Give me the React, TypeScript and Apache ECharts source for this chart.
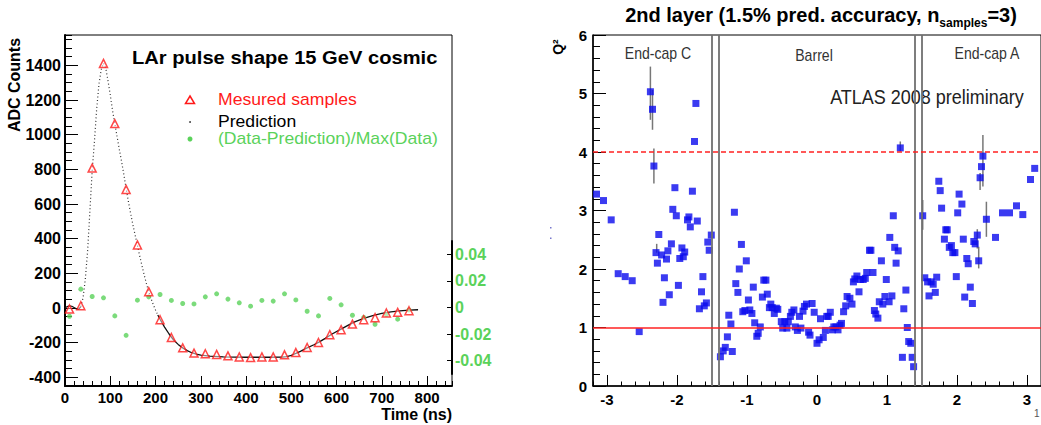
import React, { useEffect, useRef } from "react";
import * as echarts from "echarts";

// ---------- Left panel: LAr pulse shape ----------
const measT = [10, 35, 60, 85, 110, 135, 160, 185, 210, 235, 260, 285, 310, 335, 360, 385, 410, 435, 460, 485, 510, 535, 560, 585, 610, 635, 660, 685, 710, 735, 760];
const measV = [-6, 13, 807, 1411, 1064, 684, 364, 94, -68, -170, -230, -260, -264, -268, -276, -282, -286, -282, -282, -270, -257, -228, -199, -154, -125, -93, -68, -56, -29, -25, -16];
const residV = [-0.0066, 0.0138, 0.0083, 0.0073, -0.0063, -0.0209, 0.0055, 0.008, 0.0098, 0.0053, 0.003, 0.0027, 0.008, 0.0103, 0.0063, 0.0035, 0.001, 0.0053, 0.0048, 0.0103, 0.0057, -0.0028, -0.0063, 0.0068, 0.002, -0.0058, -0.0075, -0.0126, -0.0053, -0.0088, -0.0018];
const predT = [0, 5, 10, 15, 20, 25, 30, 35, 40, 45, 50, 55, 60, 65, 70, 75, 80, 85, 90, 95, 100, 105, 110, 115, 120, 125, 130, 135, 140, 145, 150, 155, 160, 165, 170, 175, 180, 185, 190, 195, 200, 205, 210, 220, 230, 240, 250, 260, 270, 280, 290, 300, 320, 350, 400, 450, 480, 490, 500, 510, 520, 535, 550, 560, 575, 590, 610, 625, 640, 660, 680, 700, 720, 740, 760, 780];
const predV = [0, 8, 12, 10, 3, -5, -8, 8, 60, 170, 330, 560, 790, 960, 1150, 1290, 1375, 1412, 1385, 1310, 1230, 1140, 1064, 990, 915, 845, 770, 690, 615, 545, 480, 420, 362, 300, 245, 190, 140, 94, 55, 20, -12, -40, -65, -110, -150, -185, -210, -230, -246, -258, -266, -272, -278, -282, -284, -284, -283, -280, -273, -262, -250, -230, -212, -198, -175, -150, -122, -100, -80, -60, -44, -31, -22, -16, -12, -10];
const dottedFrom = 35;
const dottedTo = 205;
const xRangeLeft = [0, 855];
const yRangeLeft = [-450, 1575];
const yRangeResid = [-0.05, 0.05];

// ---------- Right panel: Q^2 vs eta ----------
const etaC = [-3.15, -3.05, -2.94, -2.84, -2.74, -2.64, -2.54, -2.38, -2.35, -2.33, -2.30, -2.28, -2.26, -2.22, -2.20, -2.18, -2.15, -2.13, -2.11, -2.08, -2.06, -2.03, -2.01, -1.98, -1.96, -1.93, -1.91, -1.89, -1.85, -1.83, -1.81, -1.78, -1.75, -1.73, -1.71, -1.68, -1.65, -1.63, -1.61, -1.58, -1.56, -1.54, -1.51];
const q2C = [3.28, 3.17, 2.84, 1.92, 1.87, 1.80, 0.93, 5.03, 4.73, 3.76, 2.28, 2.10, 2.59, 2.24, 1.43, 1.85, 2.17, 2.31, 1.56, 2.43, 3.02, 3.39, 2.91, 1.72, 2.18, 2.36, 2.21, 2.29, 2.84, 2.89, 2.72, 3.33, 4.18, 4.83, 2.82, 1.32, 1.61, 1.87, 1.37, 1.42, 2.46, 2.32, 2.58];
const etaB = [-1.38, -1.34, -1.31, -1.28, -1.26, -1.23, -1.21, -1.18, -1.16, -1.13, -1.11, -1.08, -1.06, -1.03, -1.01, -0.98, -0.96, -0.93, -0.91, -0.89, -0.86, -0.84, -0.81, -0.78, -0.76, -0.73, -0.71, -0.68, -0.66, -0.64, -0.61, -0.58, -0.56, -0.51, -0.49, -0.46, -0.43, -0.41, -0.38, -0.36, -0.33,
  -0.31, -0.28, -0.25, -0.23, -0.20, -0.18, -0.15, -0.12, -0.10, -0.07, -0.04, 0.00, 0.03, 0.05, 0.09, 0.12, 0.14, 0.16, 0.19, 0.22, 0.24, 0.27, 0.30, 0.33, 0.35, 0.38, 0.41, 0.43, 0.47, 0.50, 0.52, 0.54, 0.57, 0.60, 0.62, 0.66, 0.69, 0.71, 0.75, 0.77, 0.80, 0.82, 0.84, 0.87, 0.89, 0.92, 0.94, 0.97, 0.99, 1.03, 1.04, 1.07, 1.09, 1.11, 1.13, 1.16, 1.19, 1.22, 1.24, 1.27, 1.29, 1.31, 1.34, 1.36, 1.38];
const q2B = [0.50, 0.60, 0.66, 0.84, 1.21, 1.06, 0.59, 2.97, 1.75, 1.60, 2.00, 2.42, 1.27, 1.29, 2.14, 1.47, 1.30, 1.24, 1.69, 1.08, 0.85, 0.90, 1.01, 1.52, 1.81, 1.81, 1.57, 1.34, 1.40, 1.34, 1.24, 1.33, 1.31, 1.10, 0.99, 1.10, 0.99, 1.10, 1.19, 1.26, 1.30,
  1.01, 0.95, 1.19, 0.99, 1.28, 1.36, 1.40, 0.92, 0.87, 1.41, 1.26, 0.73, 0.79, 1.15, 0.83, 0.95, 1.19, 1.19, 1.26, 0.96, 1.01, 1.01, 0.96, 1.04, 1.07, 1.27, 1.37, 1.53, 1.50, 1.40, 1.78, 1.83, 1.88, 1.61, 1.82, 1.82, 1.84, 1.94, 2.32, 2.32, 1.94, 1.29, 1.23, 1.16, 1.44, 2.14, 1.40, 1.53, 1.82, 1.44, 2.54, 1.54, 2.91, 2.37, 2.10, 2.31, 4.07, 0.49, 1.32, 1.64, 1.00, 0.76, 0.73, 0.49, 0.33];
const etaA = [1.51, 1.54, 1.58, 1.60, 1.63, 1.66, 1.69, 1.71, 1.74, 1.76, 1.78, 1.82, 1.84, 1.86, 1.89, 1.92, 1.94, 1.97, 1.99, 2.01, 2.03, 2.07, 2.09, 2.11, 2.14, 2.16, 2.19, 2.22, 2.24, 2.26, 2.29, 2.31, 2.33, 2.35, 2.37, 2.42, 2.55, 2.65, 2.75, 2.85, 2.94, 3.05, 3.11];
const q2A = [2.91, 1.85, 1.78, 1.54, 1.78, 1.74, 1.60, 1.86, 3.50, 3.34, 3.04, 2.51, 2.67, 2.67, 2.37, 2.40, 2.28, 2.28, 1.87, 2.96, 3.28, 3.11, 2.51, 1.52, 2.18, 2.09, 1.69, 1.41, 2.47, 2.43, 2.58, 2.14, 3.56, 3.75, 3.93, 2.85, 2.54, 2.96, 2.96, 3.08, 2.93, 3.53, 3.72];
const errEta = [-2.38, -2.35, -2.33, -2.29, 1.19, 1.51, 2.29, 2.31, 2.33, 2.37, 2.42];
const errLo = [4.55, 4.38, 3.46, 2.28, 4.01, 2.67, 2.35, 2.01, 3.35, 3.41, 2.55];
const errHi = [5.46, 5.06, 4.06, 2.43, 4.18, 3.18, 2.68, 2.38, 3.64, 4.29, 3.15];
const crackEta = [-1.5, -1.4, 1.4, 1.5];
const q2Solid = 1;
const q2Dashed = 4;
const etaRange = [-3.2, 3.2];
const q2Range = [0, 6];

const FONT = '"Liberation Sans", Arial, Helvetica, sans-serif';
const GREEN = "#5ad25a";
const BLUE = "#0a0aee";

export default function App() {
  const ref = useRef<HTMLDivElement>(null);
  useEffect(() => {
    if (!ref.current) return;
    const chart = echarts.init(ref.current, null, { renderer: "svg" });

    const pred = predT.map((t, i) => [t, predV[i]]);
    const predStart = pred.filter((p) => p[0] <= dottedFrom);
    const predDot = pred.filter((p) => p[0] >= dottedFrom && p[0] <= dottedTo);
    const predTail = pred.filter((p) => p[0] >= dottedTo);

    const lbl = (size: number, extra: any = {}) => ({
      fontFamily: FONT,
      fontWeight: "bold",
      fontSize: size,
      color: "#000",
      formatter: (v: number) => String(Math.round(v * 1000) / 1000),
      ...extra,
    });

    const blue = [
      ...etaC.map((e, i) => [e, q2C[i]]),
      ...etaB.map((e, i) => [e, q2B[i]]),
      ...etaA.map((e, i) => [e, q2A[i]]),
    ];

    const noLine = { show: false, onZero: false };

    const txt = (x: number, y: number, text: string, o: any = {}, el: any = {}) => ({
      type: "text", x, y, ...el,
      style: { text, fontFamily: FONT, fontSize: 15, fill: "#000", textAlign: "left", textVerticalAlign: "middle", ...o },
    });

    const option: any = {
      animation: false,
      backgroundColor: "#fff",
      textStyle: { fontFamily: FONT },
      grid: [
        { left: 65, top: 35, width: 387, height: 351, show: true, borderColor: "#000", borderWidth: 1, backgroundColor: "transparent" },
        { left: 65, top: 241, width: 387, height: 133, show: false },
        { left: 593, top: 35, width: 454, height: 351, show: true, borderColor: "#000", borderWidth: 1, backgroundColor: "transparent" },
      ],
      xAxis: [
        {
          gridIndex: 0, type: "value", position: "bottom", min: xRangeLeft[0], max: xRangeLeft[1], interval: 100,
          axisLine: { show: true, onZero: false, lineStyle: { color: "#000", width: 2 } },
          axisTick: { inside: true, length: 10, lineStyle: { color: "#000", width: 1 } },
          axisLabel: lbl(15, { margin: 4, showMaxLabel: false }),
          splitLine: { show: false },
        },
        {
          gridIndex: 0, type: "value", position: "bottom", min: xRangeLeft[0], max: xRangeLeft[1], interval: 20,
          axisLine: noLine,
          axisTick: { inside: true, length: 5, lineStyle: { color: "#000", width: 1 } },
          axisLabel: { show: false },
          splitLine: { show: false },
        },
        { gridIndex: 1, type: "value", min: xRangeLeft[0], max: xRangeLeft[1], show: false, axisLine: noLine, splitLine: { show: false } },
        {
          gridIndex: 2, type: "value", position: "bottom", min: etaRange[0], max: etaRange[1], splitNumber: 6,
          axisLine: { show: true, onZero: false, lineStyle: { color: "#000", width: 1.5 } },
          axisTick: { inside: true, length: 11, lineStyle: { color: "#000", width: 1 } },
          axisLabel: lbl(15, { margin: 6, showMinLabel: false, showMaxLabel: false }),
          splitLine: { show: false },
        },
        {
          gridIndex: 2, type: "value", position: "bottom", min: etaRange[0], max: etaRange[1], interval: 0.2,
          axisLine: noLine,
          axisTick: { inside: true, length: 4.5, lineStyle: { color: "#000", width: 1 } },
          axisLabel: { show: false },
          splitLine: { show: false },
        },
      ],
      yAxis: [
        {
          gridIndex: 0, type: "value", position: "left", min: yRangeLeft[0], max: yRangeLeft[1], splitNumber: 10,
          axisLine: { show: true, onZero: false, lineStyle: { color: "#000", width: 2 } },
          axisTick: { inside: true, length: 13, lineStyle: { color: "#000", width: 1 } },
          axisLabel: lbl(16, { margin: 4, showMinLabel: false, showMaxLabel: false }),
          splitLine: { show: false },
        },
        {
          gridIndex: 0, type: "value", position: "left", min: yRangeLeft[0], max: yRangeLeft[1], interval: 50,
          axisLine: noLine,
          axisTick: { inside: true, length: 7, lineStyle: { color: "#000", width: 1 } },
          axisLabel: { show: false },
          splitLine: { show: false },
        },
        {
          gridIndex: 1, type: "value", position: "right", min: yRangeResid[0], max: yRangeResid[1], splitNumber: 5,
          axisLine: { show: true, onZero: false, lineStyle: { color: "#000", width: 2 } },
          axisTick: { inside: true, length: 5, lineStyle: { color: "#000", width: 1 } },
          axisLabel: lbl(16, { margin: 3, color: GREEN, showMinLabel: false, showMaxLabel: false }),
          splitLine: { show: false },
        },
        {
          gridIndex: 2, type: "value", position: "left", min: q2Range[0], max: q2Range[1], interval: 1,
          axisLine: { show: true, onZero: false, lineStyle: { color: "#000", width: 1.5 } },
          axisTick: { inside: true, length: 13, lineStyle: { color: "#000", width: 1 } },
          minorTick: { show: true, splitNumber: 5, length: 7, lineStyle: { color: "#000", width: 1 } },
          axisLabel: lbl(15, { margin: 6 }),
          splitLine: { show: false },
        },
      ],
      series: [
        {
          type: "line", xAxisIndex: 0, yAxisIndex: 0, data: predStart, showSymbol: false, symbol: "none",
          lineStyle: { color: "#111", width: 1.2 }, z: 2,
        },
        {
          type: "line", xAxisIndex: 0, yAxisIndex: 0, data: predDot, showSymbol: false, symbol: "none",
          lineStyle: { color: "#333", width: 1.2, type: [1, 2.5] }, z: 2,
        },
        {
          type: "line", xAxisIndex: 0, yAxisIndex: 0, data: predTail, showSymbol: false, symbol: "none",
          lineStyle: { color: "#111", width: 1.3 }, z: 2,
        },
        {
          type: "scatter", xAxisIndex: 0, yAxisIndex: 0, data: measT.map((t, i) => [t, measV[i]]),
          symbol: "triangle", symbolSize: 8,
          itemStyle: { color: "rgba(255,255,255,0.6)", borderColor: "#ff1a1a", borderWidth: 1.5 }, z: 4,
        },
        {
          type: "scatter", xAxisIndex: 2, yAxisIndex: 2, data: measT.map((t, i) => [t, residV[i]]),
          symbol: "circle", symbolSize: 5, itemStyle: { color: GREEN }, z: 3,
        },
        {
          type: "custom", xAxisIndex: 3, yAxisIndex: 3,
          data: errEta.map((e, i) => [e, errLo[i], errHi[i]]),
          encode: { x: 0, y: [1, 2] },
          renderItem: (params: any, api: any) => {
            const p1 = api.coord([api.value(0), api.value(1)]);
            const p2 = api.coord([api.value(0), api.value(2)]);
            return {
              type: "line",
              shape: { x1: p1[0], y1: p1[1], x2: p2[0], y2: p2[1] },
              style: { stroke: "#777", lineWidth: 1.5 },
            };
          },
          z: 2,
        },
        {
          type: "scatter", xAxisIndex: 3, yAxisIndex: 3, data: blue,
          symbol: "rect", symbolSize: 7, itemStyle: { color: BLUE }, z: 4,
          markLine: {
            silent: true, symbol: ["none", "none"], label: { show: false }, animation: false,
            data: [
              ...crackEta.map((e) => ({ xAxis: e, lineStyle: { color: "#707070", width: 1.8, type: "solid" } })),
              { yAxis: q2Solid, lineStyle: { color: "#ff2222", width: 1.5, type: "solid" } },
              { yAxis: q2Dashed, lineStyle: { color: "#ff2222", width: 1.5, type: [5, 3] } },
            ],
          },
        },
      ],
      graphic: [
        txt(132, 57, "LAr pulse shape 15 GeV cosmic", { fontWeight: "bold", fontSize: 19 }, { scaleX: 1.06 }),
        { type: "polygon", shape: { points: [[190, 96], [194.5, 103.5], [185.5, 103.5]] }, style: { fill: "none", stroke: "#ff1a1a", lineWidth: 1.5 } },
        { type: "circle", shape: { cx: 190, cy: 122, r: 0.9 }, style: { fill: "#333" } },
        { type: "circle", shape: { cx: 190, cy: 139, r: 2.5 }, style: { fill: GREEN } },
        txt(218, 100, "Mesured samples", { fontSize: 16, fill: "#ff1a1a" }, { scaleX: 1.1 }),
        txt(218, 122, "Prediction", { fontSize: 16, fill: "#000" }, { scaleX: 1.1 }),
        txt(218, 139, "(Data-Prediction)/Max(Data)", { fontSize: 16, fill: GREEN }, { scaleX: 1.1 }),
        txt(14, 85, "ADC Counts", { fontWeight: "bold", fontSize: 16, textAlign: "center" }, { rotation: Math.PI / 2 }),
        txt(452, 414, "Time (ns)", { fontWeight: "bold", fontSize: 16, textAlign: "right" }),
        {
          type: "text", x: 821, y: 15,
          style: {
            text: "{a|2nd layer (1.5% pred. accuracy, n}{b|samples}{a|=3)}",
            textAlign: "center", textVerticalAlign: "middle", fill: "#000",
            rich: {
              a: { fontFamily: FONT, fontWeight: "bold", fontSize: 20, lineHeight: 28, verticalAlign: "middle" },
              b: { fontFamily: FONT, fontWeight: "bold", fontSize: 12, lineHeight: 15, verticalAlign: "bottom" },
            },
          },
        },
        txt(558, 47, "Q²", { fontWeight: "bold", fontSize: 14, textAlign: "center" }, { rotation: Math.PI / 2 }),
        txt(658, 53, "End-cap C", { fontSize: 16, fill: "#333", textAlign: "center" }, { scaleX: 0.88 }),
        txt(814, 55, "Barrel", { fontSize: 16, fill: "#333", textAlign: "center" }, { scaleX: 0.88 }),
        txt(987, 53, "End-cap A", { fontSize: 16, fill: "#333", textAlign: "center" }, { scaleX: 0.88 }),
        txt(927, 97, "ATLAS 2008 preliminary", { fontSize: 20, fill: "#222", textAlign: "center" }, { scaleX: 0.9 }),
        { type: "rect", shape: { x: 550, y: 227, width: 1.5, height: 1.5 }, style: { fill: "#7777cc" } },
        { type: "rect", shape: { x: 550, y: 237.5, width: 1.5, height: 1.5 }, style: { fill: "#7777cc" } },
        txt(1034, 413, "1", { fontSize: 10, fill: "#555" }),
      ],
    };
    chart.setOption(option);
    return () => chart.dispose();
  }, []);
  return (
    <div
      ref={ref}
      style={{ position: "absolute", left: 0, top: 0, width: 1041, height: 425, background: "#fff" }}
    />
  );
}
